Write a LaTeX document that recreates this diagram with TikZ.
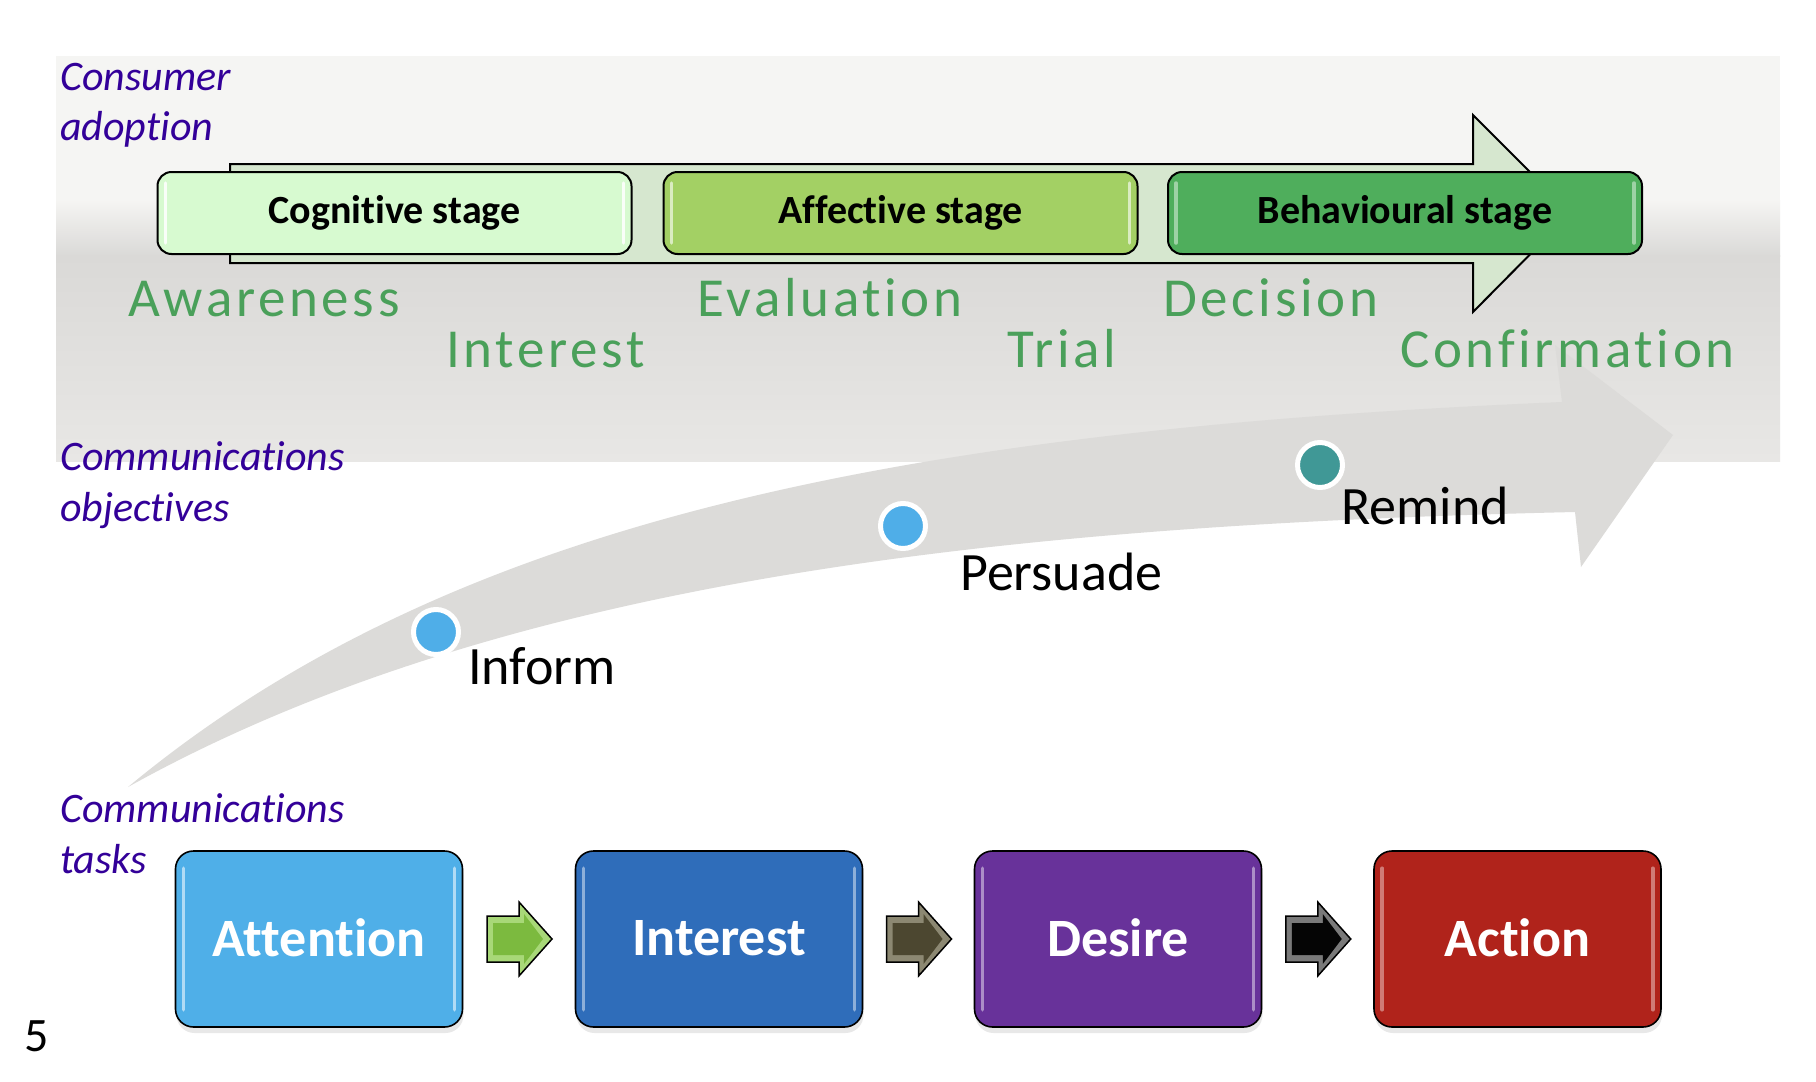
\documentclass[tikz,border=0pt]{standalone}
\usepackage{fontspec}
\setmainfont{Carlito}[Ligatures=NoCommon]
\newfontfamily\trackfont{Carlito}[LetterSpace=6.7,Ligatures=NoCommon]
\usetikzlibrary{shadows,calc}
\definecolor{panelTop}{HTML}{F5F5F3}
\definecolor{panelMid}{HTML}{DAD9D7}
\definecolor{panelBot}{HTML}{E8E7E5}
\definecolor{curveGrey}{HTML}{DCDBD9}
\definecolor{stageArrow}{HTML}{D6E7CF}
\definecolor{cogFill}{HTML}{D7FAD0}
\definecolor{affFill}{HTML}{A3D064}
\definecolor{behFill}{HTML}{4FAE5C}
\definecolor{wordGreen}{HTML}{4AA05A}
\definecolor{labPurple}{HTML}{330099}
\definecolor{dotBlue}{HTML}{4FAEE8}
\definecolor{dotTeal}{HTML}{409896}
\definecolor{attFill}{HTML}{4FAFE8}
\definecolor{intFill}{HTML}{2F6DBA}
\definecolor{desFill}{HTML}{68329A}
\definecolor{actFill}{HTML}{B0231B}
\definecolor{arrGreenOut}{HTML}{A8D878}
\definecolor{arrGreenIn}{HTML}{7CBA3F}
\definecolor{arrOliveOut}{HTML}{8C8872}
\definecolor{arrOliveIn}{HTML}{4C4730}
\definecolor{arrBlackOut}{HTML}{7A7A7A}
\definecolor{arrBlackIn}{HTML}{050505}
\newcommand\taskarrow[3]{%
  \begin{scope}[shift={(#1)}]
    \filldraw[fill=#2, draw=black, line width=1.5pt]
      (-32,-23) -- (0,-23) -- (0,-37) -- (33,0) -- (0,37) -- (0,23) -- (-32,23) -- cycle;
    \fill[#3] (-26,-16) -- (5,-16) -- (5,-25) -- (24,0) -- (5,25) -- (5,16) -- (-26,16) -- cycle;
  \end{scope}}
\newcommand\sidelights[3]{% node, colour, vertical inset
  \draw[#2, line width=3.5pt, line cap=round]
    ([xshift=9pt,yshift=-#3]#1.north west) -- ([xshift=9pt,yshift=#3]#1.south west);
  \draw[#2, line width=3.5pt, line cap=round]
    ([xshift=-9pt,yshift=-#3]#1.north east) -- ([xshift=-9pt,yshift=#3]#1.south east);}
\begin{document}
\begin{tikzpicture}[x=1pt,y=-1pt,
  stagebox/.style={draw=black, line width=2pt, rounded corners=14pt,
    minimum width=474pt, minimum height=82pt, inner sep=0pt,
    font=\fontsize{40}{46}\selectfont\bfseries},
  taskbox/.style={draw=black, line width=1.6pt, rounded corners=18pt,
    minimum width=287pt, minimum height=176pt, inner sep=0pt, text=white,
    font=\fontsize{54}{60}\selectfont\bfseries,
    drop shadow={shadow xshift=1pt, shadow yshift=-6pt, opacity=0.18}},
  stageword/.style={anchor=base west, inner sep=0pt, text=wordGreen,
    font=\trackfont\fontsize{55}{60}\selectfont},
  sidelabel/.style={anchor=base west, inner sep=0pt, text=labPurple,
    font=\fontsize{42}{48}\selectfont\itshape},
  objlabel/.style={anchor=base west, inner sep=0pt, text=black,
    font=\fontsize{54}{60}\selectfont},
  dot/.style={circle, draw=white, line width=5pt, minimum size=45pt, inner sep=0pt}
]
\useasboundingbox (0,0) rectangle (1816,1082);
\fill[white] (0,0) rectangle (1816,1082);

% background panel
\fill[panelTop] (56,56) rectangle (1780,201);
\shade[top color=panelTop, bottom color=panelMid] (56,200) rectangle (1780,256);
\shade[top color=panelMid, bottom color=panelBot] (56,255) rectangle (1780,461);

% curved grey arrow
\fill[curveGrey] (128,787) .. controls (450,520) and (900,430) .. (1562,402)
  -- (1555,345) -- (1673,435) -- (1581,567) -- (1575,512)
  .. controls (1000,525) and (500,580) .. (128,787) -- cycle;

% big outlined stage arrow
\filldraw[fill=stageArrow, draw=black, line width=2pt]
  (230,164) -- (1473,164) -- (1473,115) -- (1571,213) -- (1473,312)
  -- (1473,263) -- (230,263) -- cycle;

% stage boxes
\node[stagebox, fill=cogFill] (cog) at (394.5,213) {\raisebox{-2.5pt}{Cognitive stage}};
\node[stagebox, fill=affFill] (aff) at (900.5,213) {\raisebox{-2.5pt}{Affective stage}};
\node[stagebox, fill=behFill] (beh) at (1405,213) {\raisebox{-2.5pt}{Behavioural stage}};
\sidelights{cog}{white!85!cogFill}{12pt}
\sidelights{aff}{white!60!affFill}{12pt}
\sidelights{beh}{white!45!behFill}{12pt}

% adoption words
\node[stageword] (w1) at (128,316) {Awareness};
\node[stageword] (w2) at (446,367) {Interest};
\node[stageword] (w3) at (697,316) {Evaluation};
\node[stageword] (w4) at (1007,367) {Trial};
\node[stageword] (w5) at (1163,316) {Decision};
\node[stageword] (w6) at (1400,367) {Confirmation};

% side labels
\node[sidelabel] (l1a) at (60,90.7) {Consumer};
\node[sidelabel] (l1b) at (60,140) {adoption};
\node[sidelabel] (l2a) at (60,470.7) {Communications};
\node[sidelabel] (l2b) at (60,521.7) {objectives};
\node[sidelabel] (l3a) at (60,822.7) {Communications};
\node[sidelabel] (l3b) at (60,873.3) {tasks};

% objective dots and labels
\node[dot, fill=dotBlue] (d1) at (436,632) {};
\node[dot, fill=dotBlue] (d2) at (903,526) {};
\node[dot, fill=dotTeal] (d3) at (1320,465) {};
\node[objlabel] (o1) at (468,684) {Inform};
\node[objlabel] (o2) at (960,590.7) {Persuade};
\node[objlabel] (o3) at (1341,524) {Remind};

% task boxes
\node[taskbox, fill=attFill] (att) at (319,939) {\raisebox{2.5pt}{Attention}};
\node[taskbox, fill=intFill] (int) at (719,939) {\raisebox{2.5pt}{Interest}};
\node[taskbox, fill=desFill] (des) at (1118,939) {\raisebox{2.5pt}{Desire}};
\node[taskbox, fill=actFill] (act) at (1517.5,939) {\raisebox{2.5pt}{Action}};
\sidelights{att}{white!55!attFill}{18pt}
\sidelights{int}{white!45!intFill}{18pt}
\sidelights{des}{white!45!desFill}{18pt}
\sidelights{act}{white!40!actFill}{18pt}

% task arrows
\coordinate (m1) at ($(att.east)!0.5!(int.west)$);
\coordinate (m2) at ($(int.east)!0.5!(des.west)$);
\coordinate (m3) at ($(des.east)!0.5!(act.west)$);
\taskarrow{m1}{arrGreenOut}{arrGreenIn}
\taskarrow{m2}{arrOliveOut}{arrOliveIn}
\taskarrow{m3}{arrBlackOut}{arrBlackIn}

% page number
\node[anchor=base west, inner sep=0pt, font=\fontsize{48}{54}\selectfont] (pg) at (24,1051.7) {5};
\end{tikzpicture}
\end{document}
